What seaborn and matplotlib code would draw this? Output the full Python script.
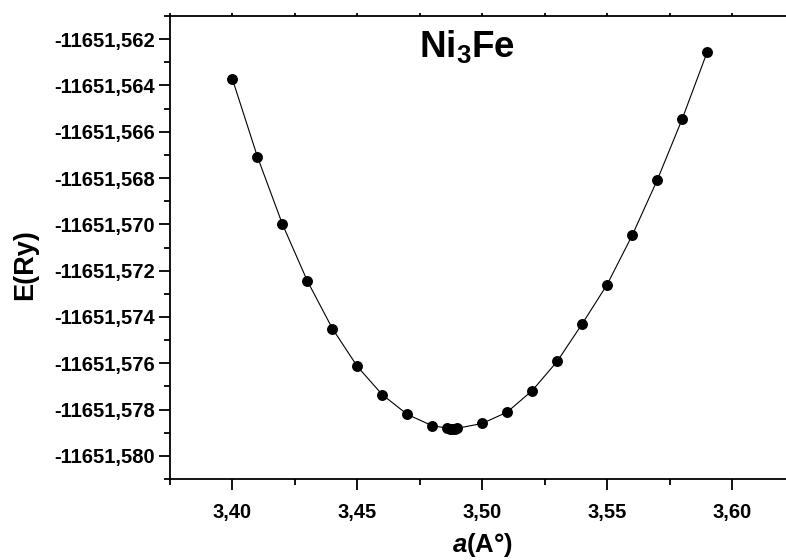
import matplotlib
matplotlib.use("Agg")
import matplotlib.pyplot as plt
import seaborn as sns
import pandas as pd
from matplotlib.ticker import FuncFormatter, MultipleLocator

# Data
lattice_a = [3.40, 3.41, 3.42, 3.43, 3.44, 3.45, 3.46, 3.47, 3.48,
             3.486, 3.487, 3.488, 3.489, 3.490,
             3.50, 3.51, 3.52, 3.53, 3.54, 3.55, 3.56, 3.57, 3.58, 3.59]
energy = [-11651.56373, -11651.56708, -11651.56999, -11651.57245, -11651.57450,
          -11651.57614, -11651.57736, -11651.57821, -11651.57870,
          -11651.57880, -11651.57882, -11651.57882, -11651.57882, -11651.57881,
          -11651.57860, -11651.57811, -11651.57718, -11651.57592, -11651.57430,
          -11651.57260, -11651.57048, -11651.56810, -11651.56546, -11651.56257]

x_ticks = [3.40, 3.45, 3.50, 3.55, 3.60]
y_ticks = [-11651.562, -11651.564, -11651.566, -11651.568, -11651.570,
           -11651.572, -11651.574, -11651.576, -11651.578, -11651.580]

df = pd.DataFrame({"a": lattice_a, "E": energy})

sns.set_style("ticks")
plt.rcParams["font.family"] = ["Liberation Sans", "DejaVu Sans"]
plt.rcParams["text.color"] = "black"
plt.rcParams["axes.labelcolor"] = "black"
plt.rcParams["xtick.color"] = "black"
plt.rcParams["ytick.color"] = "black"
plt.rcParams["mathtext.fontset"] = "custom"
plt.rcParams["mathtext.rm"] = "Liberation Sans:bold"
plt.rcParams["mathtext.it"] = "Liberation Sans:bold:italic"
plt.rcParams["mathtext.bf"] = "Liberation Sans:bold"

fig = plt.figure(figsize=(7.86, 5.6), dpi=100)
ax = fig.add_axes([170 / 786, 81 / 560, 624.5 / 786, 463 / 560])

sns.lineplot(data=df, x="a", y="E", ax=ax, color="black", linewidth=0.8,
             sort=True, estimator=None)
sns.scatterplot(data=df, x="a", y="E", ax=ax, color="black", s=62,
                edgecolor="black", linewidth=0, zorder=3)

ax.set_xlim(3.375, 3.625)
ax.set_ylim(-11651.581, -11651.561)
ax.set_xticks(x_ticks)
ax.set_yticks(y_ticks)
ax.xaxis.set_minor_locator(MultipleLocator(0.025))
ax.yaxis.set_minor_locator(MultipleLocator(0.001))

ax.xaxis.set_major_formatter(FuncFormatter(lambda v, p: f"{v:.2f}".replace(".", ",")))
ax.yaxis.set_major_formatter(FuncFormatter(lambda v, p: f"{v:.3f}".replace(".", ",")))

for side in ["top", "right", "left", "bottom"]:
    ax.spines[side].set_visible(True)
    ax.spines[side].set_linewidth(1.3)
    ax.spines[side].set_color("black")

ax.tick_params(axis="both", which="major", direction="out", length=8, width=1.3,
               colors="black")
ax.tick_params(axis="both", which="minor", direction="out", length=4, width=1.3,
               colors="black")
ax.tick_params(axis="x", which="both", top=True, labeltop=False)
ax.tick_params(axis="x", which="major", labelsize=14.5, pad=9)
ax.tick_params(axis="y", which="major", labelsize=14.5, pad=3)
for t in ax.xaxis.get_majorticklines()[1::2]:
    t.set_markersize(2)
for t in ax.xaxis.get_minorticklines()[1::2]:
    t.set_markersize(2)

for lbl in ax.get_xticklabels() + ax.get_yticklabels():
    lbl.set_fontweight("bold")

ax.set_xlabel(r"$a$(A°)", fontsize=18.5, fontweight="bold")
ax.set_ylabel("E(Ry)", fontsize=19.5, fontweight="bold")
ax.xaxis.set_label_coords((483 - 170) / 624.5, -(531 - 479) / 463)
ax.yaxis.set_label_coords(-(170 - 38) / 624.5, (479 - 264.5) / 463)

ax.text(0.476, 0.935, r"Ni$_3$Fe", transform=ax.transAxes, fontsize=26.5,
        fontweight="bold", ha="center", va="center")

fig.savefig("out.png", dpi=100)
